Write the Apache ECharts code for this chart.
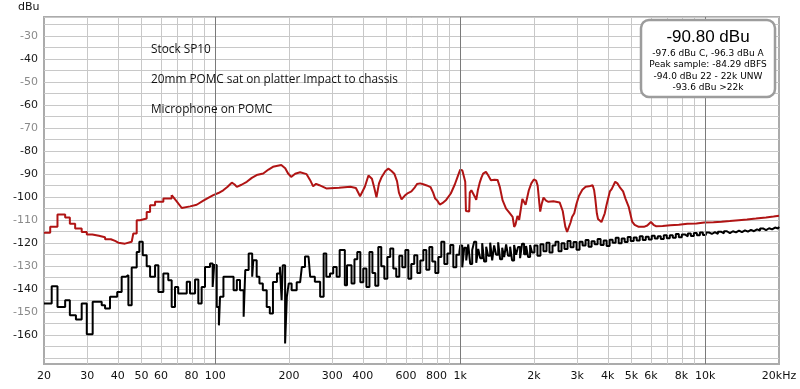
<!DOCTYPE html>
<html>
<head>
<meta charset="utf-8">
<script src="https://cdn.jsdelivr.net/npm/echarts@6/dist/echarts.min.js"></script>
<style>
html,body{margin:0;padding:0;background:#fff;}
#chart{width:800px;height:389px;}
</style>
</head>
<body>
<div id="chart"></div>
<script>
// ---------- DATA ----------
// X tick labels (Hz)
const xTickValues = [20,30,40,50,60,80,100,200,300,400,600,800,1000,2000,3000,4000,5000,6000,8000,10000,20000];
const xTickLabels = ['20','30','40','50','60','80','100','200','300','400','600','800','1k','2k','3k','4k','5k','6k','8k','10k','20kHz'];
const xGridValues = [30,40,50,60,70,80,90,200,300,400,500,600,700,800,900,2000,3000,4000,5000,6000,7000,8000,9000];
const xMajorValues = [100,1000,10000];
// Y ticks (dBu)
const yMin = -172.5, yMax = -21.7;
const yTickValues = [-160,-150,-140,-130,-120,-110,-100,-90,-80,-70,-60,-50,-40,-30];
const yGrayLabels = [-150,-130,-110,-70,-50,-30];

// Red curve: low-frequency stepped bins [Hz, dBu]
const redLow = [[20,-115.5],[21.2,-112.9],[22.7,-107.5],[24.4,-108.8],[25.5,-111.5],[26.8,-113.6],[28.5,-115.1],[29.9,-116.2],
[31.5,-116.8],[33.5,-117.4],[35.5,-118.3],[37.5,-119.0],[39,-119.8],[40.2,-120.2],[42.8,-119.4],[45.6,-118.7],[46.3,-115.8],
[47.8,-110],[49.3,-109.3],[52.5,-106.4],[54.2,-103.5],[56.8,-102],[61.4,-100.6],[66.4,-99.1]];
// Red curve: upper part [Hz, dBu]
const redHigh = [[66.4,-99.1],[69.6,-101.8],[73,-104.7],[79,-104],[84,-103.3],[89.4,-101.5],[94,-100.2],[98.2,-99.1],[103,-98.2],
[107.8,-97],[112,-95.6],[116.8,-93.7],[120,-94.5],[122.5,-95.5],[128,-94.6],[134.5,-93.3],[141,-91.6],[147.6,-90.4],[157,-89.7],
[165,-88],[172,-86.8],[186,-86],[193,-87.4],[198,-89.6],[204,-91.2],[212,-89.8],[222,-89.2],[236,-90],[244,-92.6],[251,-95.3],
[258,-94.2],[266,-94.8],[284,-96.2],[320,-95.9],[356,-95.5],[375,-96],[390,-99.6],[408,-95.5],[422,-90.6],[430,-90.8],[436,-92],
[446,-96],[455,-100.1],[466,-94],[478,-91.2],[495,-88.6],[509,-87.6],[524,-88.6],[538,-89.8],[552,-93],[562,-98],[576,-101],
[594,-99.3],[612,-98.2],[632,-97.5],[650,-96],[666,-94.3],[686,-94],[706,-94.4],[730,-94.9],[756,-95.6],[775,-98],[790,-100.6],
[806,-101.5],[825,-103.2],[845,-102.6],[876,-101.2],[915,-98.4],[950,-94.5],[980,-90.5],[1000,-88],[1020,-88.4],[1035,-91],
[1048,-93.3],[1055,-106],[1088,-106.2],[1094,-98],[1110,-97],[1124,-96.4],[1147,-99.8],[1162,-101.2],[1180,-97],[1200,-93.8],
[1220,-91.5],[1240,-89.8],[1273,-89],[1300,-90.5],[1334,-92.6],[1380,-92.4],[1420,-92.5],[1450,-95.5],[1488,-101.3],[1538,-105],
[1580,-106.5],[1636,-108.6],[1660,-112.9],[1680,-112],[1712,-108.2],[1740,-109.8],[1766,-110],[1793,-100.8],[1820,-101],
[1848,-103.3],[1870,-102.5],[1905,-97],[1950,-94],[1997,-92.3],[2040,-92.8],[2070,-95],[2100,-102],[2120,-106.3],[2150,-103],
[2187,-100.2],[2240,-101.5],[2290,-102],[2400,-101.8],[2545,-102.3],[2620,-106],[2684,-112.8],[2730,-115.1],[2770,-114.8],
[2820,-111],[2860,-108.6],[2920,-107],[2980,-103],[3050,-99.5],[3150,-96.8],[3250,-95.5],[3350,-95.3],[3470,-94.8],[3520,-97],
[3560,-101],[3610,-107],[3650,-109.5],[3770,-110.8],[3890,-107],[3950,-103.6],[4080,-97.5],[4150,-96.5],[4290,-93.3],[4380,-94],
[4500,-96],[4620,-97.5],[4720,-100.5],[4870,-104.2],[5030,-110.6],[5150,-112],[5350,-112.9],[5620,-112.9],[5800,-112.3],
[6000,-110.8],[6150,-112],[6290,-112.6],[6700,-112.5],[7200,-112.2],[7800,-112],[8450,-111.6],[9200,-111.4],[9920,-111],
[10800,-110.9],[11650,-110.7],[12600,-110.4],[13700,-110],[14800,-109.7],[16100,-109.3],[17700,-108.8],[19000,-108.4],[20000,-108.1]];

// Black curve: stepped bins [Hz, dBu]
const blackCurve = [[20,-146.2],[21.5,-138.7],[22.7,-147.7],[24.4,-144.8],[25.5,-151.3],[27.0,-153.2],[28.5,-146.2],[29.9,-159.6],
[31.6,-145.5],[34.4,-147],[35.5,-148.4],[37.2,-143.3],[39.8,-141.2],[41.5,-134.6],[43.2,-133.9],[44.2,-147],[45.6,-130.6],
[47.8,-123.8],[49.0,-119.4],[50.6,-125.2],[52.5,-130],[54.2,-134.6],[56.8,-129.6],[58.6,-141.2],[61.4,-133.2],[64.3,-136.1],
[66.4,-147.7],[68.5,-139],[70.6,-141.9],[76.5,-136.8],[78.9,-141.9],[82.7,-135.8],[85.3,-146.2],[88.0,-139],[90.8,-130.3],
[95.2,-128.8],[97.6,-139],[99,-129.5],[101.4,-147.7],[103.5,-155.7],[104.6,-143.3],[108,-134.6],[118.8,-140.4],[122.5,-136],
[126.2,-140.4],[130.6,-152],[132.6,-131.7],[136.9,-124.5],[141.5,-134.6],[143,-127.4],[147.6,-134.6],[151.5,-137.5],
[156.4,-140.4],[162.2,-147.7],[167,-150.6],[172,-136.9],[178.6,-133.2],[183.6,-130.3],[186.6,-144.8],[188.6,-129.6],
[192.8,-163.6],[196,-143.3],[199.5,-137.5],[205,-140.4],[215,-137],[222,-136.8],[225.7,-130.3],[232.4,-125.8],[240.3,-126.5],
[244,-134.6],[255,-136.8],[268,-143.3],[277,-124.5],[284,-134.6],[294,-133.2],[303,-130.3],[313,-134.6],[322,-123],[338,-138.3],
[345,-129.6],
[350,-129.6],[360,-137.5],[370,-127],[380,-123.8],[391,-137],[402,-131],[414,-139],[426,-123.8],[438,-133],[450,-138.5],
[463,-121.6],[476,-130],[490,-135.5],[504,-126],[518,-122.3],[533,-131],[548,-134.6],[564,-125.5],[580,-130.5],[597,-123],
[614,-135.5],[631,-129],[649,-125.2],[668,-133],[687,-127.5],[707,-123],[727,-131.5],[748,-121.6],[769,-128],[791,-133],
[814,-126],[837,-119.4],[861,-129],[886,-124.5],[911,-120.8],[937,-130.5],[964,-125],[992,-123.8],
[1000,-121],[1019,-130.5],[1038,-122],[1058,-127.5],[1078,-120.5],[1098,-129],[1119,-123],[1140,-119.4],[1162,-128.5],
[1184,-122.5],[1206,-126.5],[1229,-120],[1252,-128],[1276,-121.5],[1300,-125.5],[1325,-119.8],[1350,-127.5],[1375,-121],
[1401,-125],[1428,-119.6],[1455,-127],[1483,-122],[1511,-126],[1539,-120.5],[1568,-125.5],[1598,-121.5],[1628,-127.5],
[1659,-120.8],[1690,-125],[1722,-121.6],[1755,-126.5],[1788,-120.2],[1822,-124.8],[1857,-121.2],[1892,-126],[1928,-120.8],
[1964,-124],
[2008,-121],[2066,-125.5],[2125,-120.5],[2186,-123.5],[2249,-119.8],[2313,-124],[2380,-121],[2448,-119.4],[2518,-123.5],
[2590,-120],[2664,-122.5],[2741,-119],[2819,-121.8],[2900,-119.5],[2983,-122.8],[3069,-119.4],[3157,-121],[3247,-118.6],
[3340,-121.5],[3436,-119.2],[3535,-120.5],[3636,-118.2],[3740,-120.8],[3848,-118.8],[3958,-121.2],[4071,-118.5],[4188,-119.8],
[4308,-117.6],[4432,-120],[4559,-118],[4690,-119.5],[4824,-117.3],[4962,-119],
[5105,-117.5],[5251,-118.8],[5402,-117],[5557,-118.6],[5716,-117.2],[5880,-118.4],[6048,-116.8],[6222,-118],[6400,-117],
[6584,-118.2],[6772,-116.6],[6967,-117.8],[7166,-116.5],[7372,-117.6],[7583,-116],[7800,-117.4],[8024,-116.2],[8254,-117],
[8491,-115.8],[8734,-116.9],[8985,-115.6],[9242,-116.6],[9507,-115.4],[9780,-116.4],
[10060,-115.3],[10350,-116],[10640,-115.2],[10950,-116],[11260,-115],[11590,-115.7],[11920,-114.8],[12260,-115.6],
[12610,-114.8],[12970,-115.3],[13350,-114.5],[13730,-115.2],[14120,-114.4],[14530,-115],[14940,-114.2],[15370,-114.8],
[15810,-114],[16270,-114.5],[16730,-113.6],[17210,-114.3],[17710,-113.5],[18220,-114],[18740,-113.2],[19270,-113.6],
[19830,-112.9],[20000,-113]];

// Texts
const notes = ['Stock SP10','20mm POMC sat on platter Impact to chassis','Microphone on POMC'];
const meterMain = '-90.80 dBu';
const meterLines = ['-97.6 dBu C, -96.3 dBu A','Peak sample: -84.29 dBFS','-94.0 dBu 22 - 22k UNW','-93.6 dBu >22k'];

// ---------- CHART ----------
const chart = echarts.init(document.getElementById('chart'), null, {renderer:'canvas'});
const RED = '#b01414';
const labelFont = 'DejaVu Sans';

const baseGraphics = [
  {type: 'text', left: 18, top: 2, style: {text: 'dBu', font: '11px "DejaVu Sans"', fill: '#111'}},
  {type: 'text', x: 151, y: 50, style: {text: notes[0], font: '11.8px "Open Sans"', fill: '#111', textVerticalAlign: 'middle'}, z: 50},
  {type: 'text', x: 151, y: 80, style: {text: notes[1], font: '11.8px "Open Sans"', fill: '#111', textVerticalAlign: 'middle'}, z: 50},
  {type: 'text', x: 151, y: 110, style: {text: notes[2], font: '11.8px "Open Sans"', fill: '#111', textVerticalAlign: 'middle'}, z: 50},
  {type: 'rect', shape: {x: 641, y: 20, width: 134, height: 77, r: 8},
    style: {fill: '#ffffff', stroke: '#9c9c9c', lineWidth: 2.5}, z: 60},
  {type: 'text', x: 708, y: 37, z: 61,
    style: {text: meterMain, font: '17px "Liberation Sans"', fill: '#000', textAlign: 'center', textVerticalAlign: 'middle'}},
  {type: 'text', x: 708, y: 54, z: 61,
    style: {text: meterLines[0], font: '9px "DejaVu Sans"', fill: '#000', textAlign: 'center', textVerticalAlign: 'middle'}},
  {type: 'text', x: 708, y: 65, z: 61,
    style: {text: meterLines[1], font: '9px "DejaVu Sans"', fill: '#000', textAlign: 'center', textVerticalAlign: 'middle'}},
  {type: 'text', x: 708, y: 76.5, z: 61,
    style: {text: meterLines[2], font: '9px "DejaVu Sans"', fill: '#000', textAlign: 'center', textVerticalAlign: 'middle'}},
  {type: 'text', x: 708, y: 88, z: 61,
    style: {text: meterLines[3], font: '9px "DejaVu Sans"', fill: '#000', textAlign: 'center', textVerticalAlign: 'middle'}}
];

const option = {
  animation: false,
  backgroundColor: '#ffffff',
  grid: {
    left: 44, right: 21, top: 17, bottom: 25,
    show: true,
    borderColor: '#ababab', borderWidth: 2
  },
  xAxis: {
    type: 'log', logBase: 10, min: 20, max: 20000,
    axisLine: {show: false},
    axisTick: {show: false},
    splitLine: {show: false},
    minorSplitLine: {show: false},
    axisLabel: {
      customValues: xTickValues,
      hideOverlap: false, showMinLabel: true, showMaxLabel: true,
      margin: 7, color: '#111', fontFamily: labelFont, fontSize: 11,
      formatter: function (v) {
        const i = xTickValues.findIndex(t => Math.abs(t - v) < 1e-6 * t);
        return i >= 0 ? xTickLabels[i] : '';
      }
    }
  },
  yAxis: {
    type: 'value', min: yMin, max: yMax, interval: 2.5,
    axisLine: {show: false},
    axisTick: {show: false},
    splitLine: {show: true, lineStyle: {color: ['rgba(255,255,255,0)', '#c8c8c8'], width: 1}},
    axisLabel: {
      margin: 6, fontFamily: labelFont, fontSize: 11,
      showMinLabel: false, showMaxLabel: false,
      formatter: function (v) {
        const r = Math.round(v);
        return (yTickValues.indexOf(r) >= 0 && Math.abs(v - r) < 1e-6) ? String(r) : '';
      },
      color: function (v) {
        return yGrayLabels.indexOf(Math.round(Number(v))) >= 0 ? '#8a8a8a' : '#1a1a1a';
      }
    }
  },
  series: [
    {
      type: 'line', data: [], z: 1, silent: true,
      markLine: {
        silent: true, symbol: ['none','none'], animation: false,
        label: {show: false},
        lineStyle: {color: '#7a7a7a', width: 1, type: 'solid'},
        emphasis: {disabled: true},
        data: xMajorValues.map(v => ({xAxis: v}))
      }
    },
    {
      name: 'black', type: 'line', data: blackCurve, step: 'end', z: 3,
      showSymbol: false, symbol: 'none',
      lineStyle: {color: '#000000', width: 2}, silent: true
    },
    {
      name: 'red-low', type: 'line', data: redLow, step: 'end', z: 4,
      showSymbol: false, symbol: 'none',
      lineStyle: {color: RED, width: 2}, silent: true
    },
    {
      name: 'red', type: 'line', data: redHigh, z: 4,
      showSymbol: false, symbol: 'none',
      lineStyle: {color: RED, width: 2}, silent: true
    }
  ],
  graphic: baseGraphics
};
chart.setOption(option);

// Minor vertical grid lines, positioned through the chart's own log x scale
const yTopPx = chart.convertToPixel({yAxisIndex: 0}, yMax);
const yBotPx = chart.convertToPixel({yAxisIndex: 0}, yMin);
const minorGridGraphics = xGridValues.map(function (f) {
  const px = Math.round(chart.convertToPixel({xAxisIndex: 0}, f)) + 0.5;
  return {
    type: 'line', silent: true, z: 2,
    shape: {x1: px, y1: yTopPx, x2: px, y2: yBotPx},
    style: {stroke: '#c8c8c8', lineWidth: 1}
  };
});
chart.setOption({graphic: baseGraphics.concat(minorGridGraphics)});
</script>
</body>
</html>
